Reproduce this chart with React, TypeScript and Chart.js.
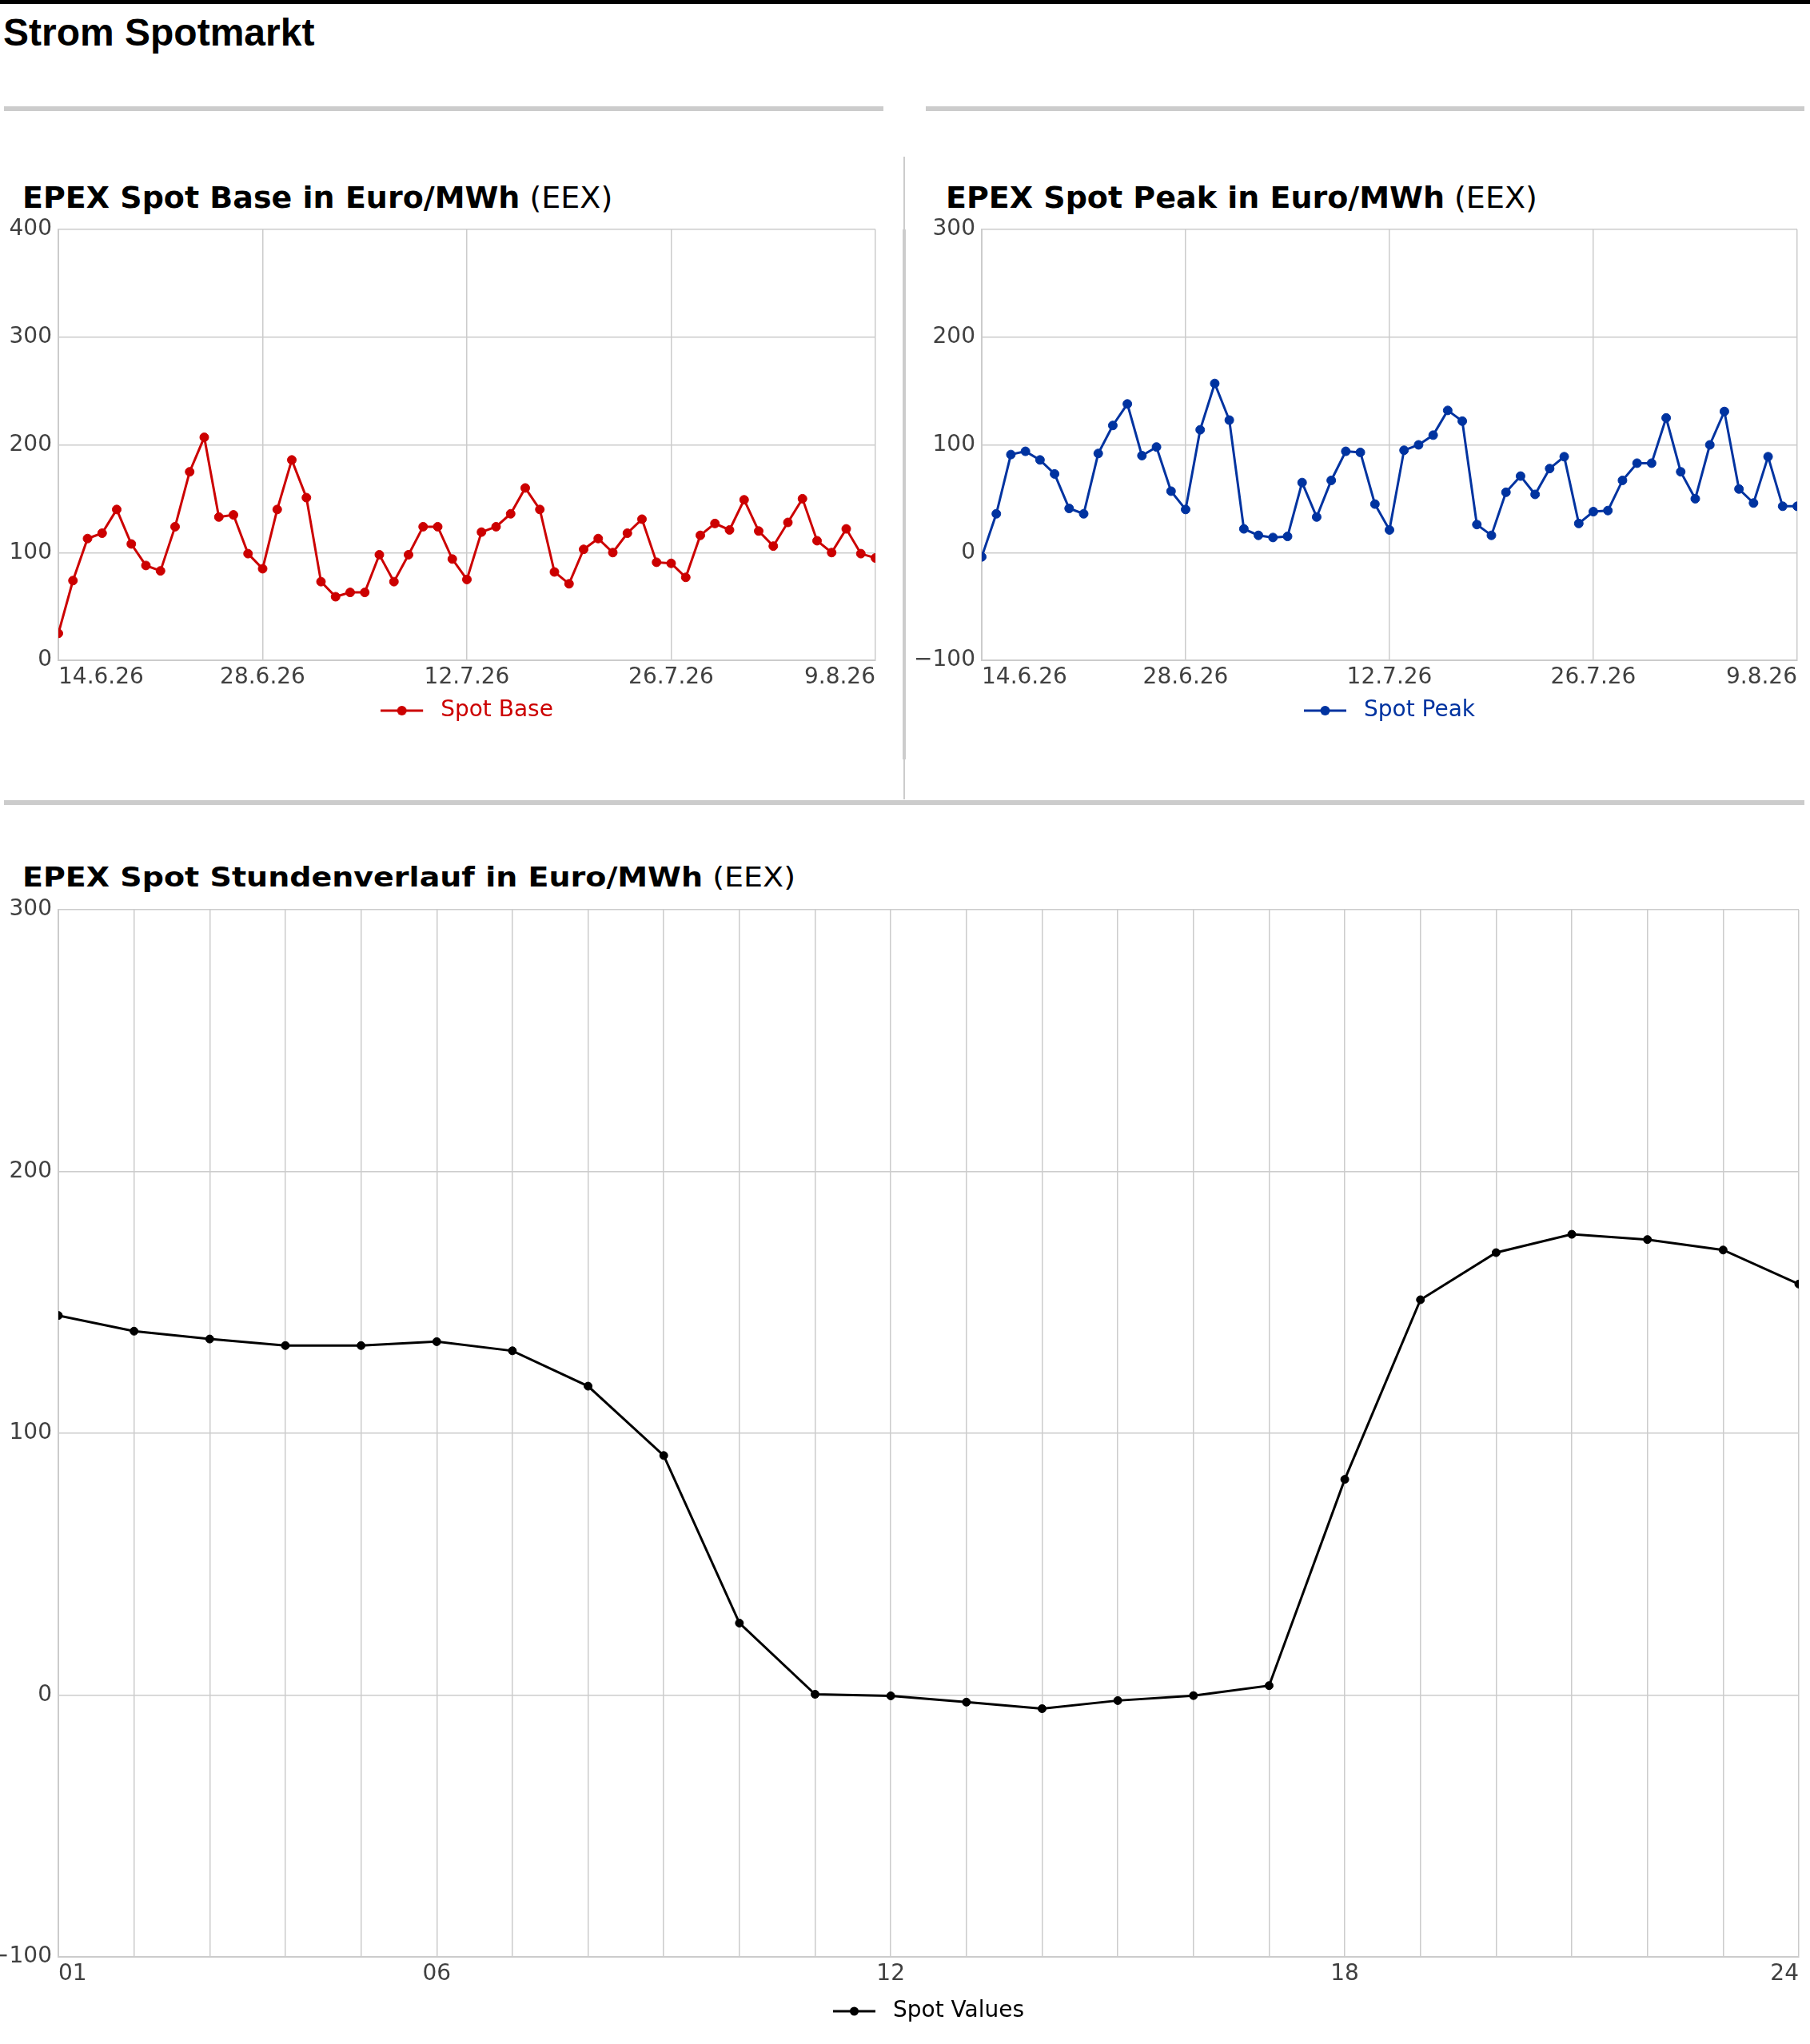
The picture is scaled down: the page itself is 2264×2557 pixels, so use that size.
import { useEffect, useRef } from "react";
import { Chart, registerables } from "chart.js";
Chart.register(...registerables);

Chart.defaults.font.family = "'DejaVu Sans'";
Chart.defaults.font.size = 28;

// Tageswerte 14.6.26 - 9.8.26
const days = [
  "14.6.26", "15.6.26", "16.6.26", "17.6.26", "18.6.26", "19.6.26", "20.6.26", "21.6.26", "22.6.26",
  "23.6.26", "24.6.26", "25.6.26", "26.6.26", "27.6.26", "28.6.26", "29.6.26", "30.6.26",
  "1.7.26", "2.7.26", "3.7.26", "4.7.26", "5.7.26", "6.7.26", "7.7.26", "8.7.26", "9.7.26", "10.7.26",
  "11.7.26", "12.7.26", "13.7.26", "14.7.26", "15.7.26", "16.7.26", "17.7.26", "18.7.26", "19.7.26",
  "20.7.26", "21.7.26", "22.7.26", "23.7.26", "24.7.26", "25.7.26", "26.7.26", "27.7.26", "28.7.26",
  "29.7.26", "30.7.26", "31.7.26",
  "1.8.26", "2.8.26", "3.8.26", "4.8.26", "5.8.26", "6.8.26", "7.8.26", "8.8.26", "9.8.26",
];
const dayTickIdx = [0, 14, 28, 42, 56];

const spotBase = [
  25, 74, 113, 118, 140, 108, 88, 83, 124, 175, 207, 133, 135, 99, 85, 140, 186, 151, 73, 59,
  63, 63, 98, 73, 98, 124, 124, 94, 75, 119, 124, 136, 160, 140, 82, 71, 103, 113, 100, 118,
  131, 91, 90, 77, 116, 127, 121, 149, 120, 106, 128, 150, 111, 100, 122, 99, 95,
];

const spotPeak = [
  -4, 36, 91, 94, 86, 73, 41, 36, 92, 118, 138, 90, 98, 57, 40, 114, 157, 123, 22, 16,
  14, 15, 65, 33, 67, 94, 93, 45, 21, 95, 100, 109, 132, 122, 26, 16, 56, 71, 54, 78,
  89, 27, 38, 39, 67, 83, 83, 125, 75, 50, 100, 131, 59, 46, 89, 43, 43,
];

// Stundenverlauf
const hours = [
  "01", "02", "03", "04", "05", "06", "07", "08", "09", "10", "11", "12",
  "13", "14", "15", "16", "17", "18", "19", "20", "21", "22", "23", "24",
];
const hourTickIdx = [0, 5, 11, 17, 23];
const spotValues = [
  145, 139, 136, 133.5, 133.5, 135, 131.5, 118, 91.5, 27.5, 0.3, -0.3,
  -2.7, -5.2, -2.1, -0.2, 3.6, 82.4, 151, 169, 176, 174, 170, 157,
];

const GRID = "#cccccc";
const TICK = "#404040";

function legendImage(color: string, lw: number, r: number) {
  const c = document.createElement("canvas");
  c.width = 61;
  c.height = 16;
  const g = c.getContext("2d")!;
  g.strokeStyle = color;
  g.fillStyle = color;
  g.lineWidth = lw;
  g.beginPath();
  g.moveTo(0, 8);
  g.lineTo(53, 8);
  g.stroke();
  g.beginPath();
  g.arc(26.5, 8, r, 0, Math.PI * 2);
  g.fill();
  return c;
}

type Props = {
  labels: string[];
  values: number[];
  label: string;
  color: string;
  yMin: number;
  yMax: number;
  tickIdx: number[];
  allGrid: boolean;
  box: { left: number; top: number; width: number; height: number };
  yWidth: number;
  xHeight: number;
  padRight: number;
  padBottom: number;
  lineWidth: number;
  radius: number;
};

function SpotChart(p: Props) {
  const canvasRef = useRef<HTMLCanvasElement | null>(null);

  useEffect(() => {
    if (!canvasRef.current) return;
    const ctx = canvasRef.current.getContext("2d");
    if (!ctx) return;
    const last = p.labels.length - 1;

    const chart = new Chart(ctx, {
      type: "line",
      data: {
        labels: p.labels,
        datasets: [
          {
            label: p.label,
            data: p.values,
            borderColor: p.color,
            backgroundColor: p.color,
            borderWidth: p.lineWidth,
            pointRadius: p.radius,
            pointBorderWidth: 1,
            pointBackgroundColor: p.color,
            pointBorderColor: p.color,
            tension: 0,
            clip: 0,
          },
        ],
      },
      options: {
        animation: false,
        responsive: true,
        maintainAspectRatio: false,
        events: [],
        // top padding is larger than the y label overhang, so the plot top is fixed by it
        layout: { padding: { top: 30, right: p.padRight, bottom: p.padBottom, left: 0 } },
        plugins: {
          tooltip: { enabled: false },
          legend: {
            position: "bottom",
            fullSize: false,
            labels: {
              usePointStyle: true,
              pointStyle: legendImage(p.color, p.lineWidth, p.radius + 0.5),
              pointStyleWidth: 61,
              color: p.color,
              padding: 10,
              font: { size: 28 },
            },
          },
        },
        scales: {
          x: {
            offset: false,
            grid: { color: GRID, lineWidth: 1.5, drawTicks: false },
            border: { color: GRID, width: 2 },
            ticks: {
              autoSkip: false,
              maxRotation: 0,
              minRotation: 0,
              align: "inner",
              padding: 5,
              color: TICK,
              font: { size: 28 },
              callback: (_v: any, i: number) => {
                if (p.tickIdx.includes(i)) return p.labels[i];
                if (p.allGrid || i === 0 || i === last) return "";
                return null;
              },
            },
            afterFit: (s: any) => {
              s.height = p.xHeight;
            },
          },
          y: {
            min: p.yMin,
            max: p.yMax,
            grid: { color: GRID, lineWidth: 1.5, drawTicks: false },
            border: { color: GRID, width: 2 },
            ticks: {
              stepSize: 100,
              padding: 8,
              color: TICK,
              font: { size: 28 },
              callback: (v: any) => String(v).replace("-", "\u2212"),
            },
            afterFit: (s: any) => {
              s.width = p.yWidth;
            },
          },
        },
      },
    });

    return () => chart.destroy();
  }, []);

  return (
    <div style={{ position: "absolute", ...p.box }}>
      <canvas ref={canvasRef} />
    </div>
  );
}

const abs = (s: any) => ({ position: "absolute" as const, ...s });

export default function App() {
  const titleStyle = {
    fontFamily: "'DejaVu Sans'",
    fontSize: 38,
    lineHeight: "38px",
    color: "#000",
    whiteSpace: "nowrap" as const,
  };
  return (
    <div style={abs({ left: 0, top: 0, width: 2264, height: 2557, overflow: "hidden", background: "#fff" })}>
      <div style={abs({ left: 0, top: 0, width: 2264, height: 5, background: "#000" })} />
      <div
        style={abs({
          left: 4,
          top: 17,
          fontFamily: "'Liberation Sans', Arial, sans-serif",
          fontWeight: "bold",
          fontSize: 48,
          lineHeight: "48px",
          color: "#000",
          whiteSpace: "nowrap",
        })}
      >
        Strom Spotmarkt
      </div>
      <div style={abs({ left: 5, top: 133, width: 1100, height: 6, background: "#cccccc" })} />
      <div style={abs({ left: 1158, top: 133, width: 1099, height: 6, background: "#cccccc" })} />
      <div style={abs({ left: 1130, top: 196, width: 2, height: 804, background: "#cccccc" })} />
      <div style={abs({ left: 1129, top: 287, width: 4, height: 663, background: "#cccccc" })} />
      <div style={abs({ left: 5, top: 1001, width: 2252, height: 6, background: "#cccccc" })} />

      <div style={abs({ left: 28, top: 228, ...titleStyle })}>
        <span style={{ fontWeight: "bold" }}>EPEX Spot Base in Euro/MWh</span> (EEX)
      </div>
      <div style={abs({ left: 1183, top: 228, ...titleStyle })}>
        <span style={{ fontWeight: "bold" }}>EPEX Spot Peak in Euro/MWh</span> (EEX)
      </div>
      <div
        style={abs({
          left: 28,
          top: 1081,
          ...titleStyle,
          fontSize: 33.5,
          lineHeight: "34px",
          transform: "scaleX(1.135)",
          transformOrigin: "left top",
        })}
      >
        <span style={{ fontWeight: "bold" }}>EPEX Spot Stundenverlauf in Euro/MWh</span> (EEX)
      </div>

      <SpotChart
        labels={days}
        values={spotBase}
        label="Spot Base"
        color="#cc0000"
        yMin={0}
        yMax={400}
        tickIdx={dayTickIdx}
        allGrid={false}
        box={{ left: 0, top: 257, width: 1110, height: 670 }}
        yWidth={73}
        xHeight={39}
        padRight={15}
        padBottom={14}
        lineWidth={3}
        radius={5.5}
      />
      <SpotChart
        labels={days}
        values={spotPeak}
        label="Spot Peak"
        color="#0033a0"
        yMin={-100}
        yMax={300}
        tickIdx={dayTickIdx}
        allGrid={false}
        box={{ left: 1140, top: 257, width: 1124, height: 670 }}
        yWidth={88}
        xHeight={39}
        padRight={16}
        padBottom={14}
        lineWidth={3}
        radius={5.5}
      />
      <SpotChart
        labels={hours}
        values={spotValues}
        label="Spot Values"
        color="#000000"
        yMin={-100}
        yMax={300}
        tickIdx={hourTickIdx}
        allGrid={true}
        box={{ left: 0, top: 1108, width: 2264, height: 1442 }}
        yWidth={73}
        xHeight={44}
        padRight={14}
        padBottom={10}
        lineWidth={3}
        radius={5}
      />
    </div>
  );
}
